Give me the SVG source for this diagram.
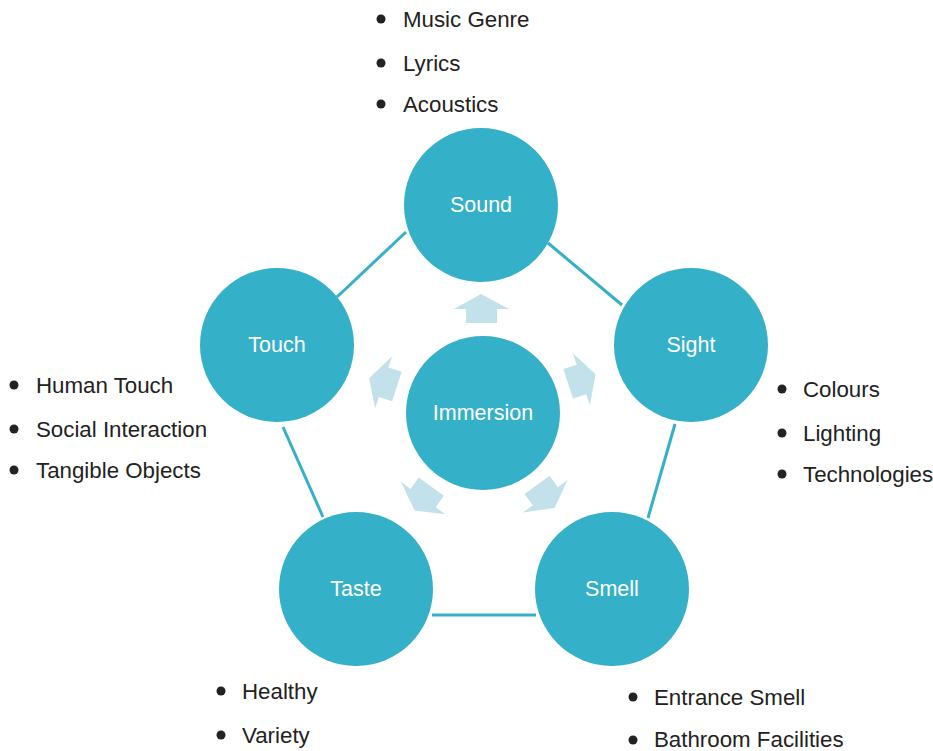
<svg xmlns="http://www.w3.org/2000/svg" width="933" height="751" viewBox="0 0 933 751">
<defs>
<style>
.node{fill:#35b0c9}
.lbl{fill:#ffffff;font-family:"Liberation Sans",Arial,sans-serif;font-size:21.5px;text-anchor:middle}
.item{fill:#222222;font-family:"Liberation Sans",Arial,sans-serif;font-size:22.3px}
.dot{fill:#222222}
.edge{stroke:#35b0c9;stroke-width:3;fill:none}
.arr{fill:#c2e1eb}
</style>
<path id="arrow" d="M481,294 L509,309 L497,309 L497,323 L466,323 L466,309 L454,309 Z"/>
</defs>
<rect width="933" height="751" fill="#ffffff"/>
<g id="connectors">
<line class="edge" x1="548" y1="243" x2="622" y2="305"/>
<line class="edge" x1="675" y1="424" x2="648" y2="518"/>
<line class="edge" x1="536" y1="615" x2="432" y2="615"/>
<line class="edge" x1="323" y1="517" x2="283" y2="427"/>
<line class="edge" x1="337" y1="297" x2="406" y2="232"/>
<g class="arr">
<use href="#arrow"/>
<use href="#arrow" transform="rotate(72 483 413)"/>
<use href="#arrow" transform="rotate(144 483 413)"/>
<use href="#arrow" transform="rotate(-144 483 413)"/>
<use href="#arrow" transform="rotate(-72 483 413)"/>
</g>
</g>
<g id="immersion"><circle class="node" cx="483" cy="413" r="77"/><text class="lbl" x="483" y="420">Immersion</text></g>
<g id="sound"><circle class="node" cx="481" cy="205" r="77"/><text class="lbl" x="481" y="212">Sound</text></g>
<g id="sight"><circle class="node" cx="691" cy="345" r="77"/><text class="lbl" x="691" y="352">Sight</text></g>
<g id="smell"><circle class="node" cx="612" cy="589" r="77"/><text class="lbl" x="612" y="596">Smell</text></g>
<g id="taste"><circle class="node" cx="356" cy="589" r="77"/><text class="lbl" x="356" y="596">Taste</text></g>
<g id="touch"><circle class="node" cx="277" cy="345" r="77"/><text class="lbl" x="277" y="352">Touch</text></g>
<g id="sound-list">
<circle class="dot" cx="381" cy="19" r="4.5"/><text class="item" x="403" y="27">Music Genre</text>
<circle class="dot" cx="381" cy="63" r="4.5"/><text class="item" x="403" y="71">Lyrics</text>
<circle class="dot" cx="381" cy="104" r="4.5"/><text class="item" x="403" y="112">Acoustics</text>
</g>
<g id="touch-list">
<circle class="dot" cx="14" cy="385" r="4.5"/><text class="item" x="36" y="393">Human Touch</text>
<circle class="dot" cx="14" cy="429" r="4.5"/><text class="item" x="36" y="437">Social Interaction</text>
<circle class="dot" cx="14" cy="470" r="4.5"/><text class="item" x="36" y="478">Tangible Objects</text>
</g>
<g id="sight-list">
<circle class="dot" cx="782" cy="389" r="4.5"/><text class="item" x="803" y="397">Colours</text>
<circle class="dot" cx="782" cy="433" r="4.5"/><text class="item" x="803" y="441">Lighting</text>
<circle class="dot" cx="782" cy="474" r="4.5"/><text class="item" x="803" y="482">Technologies</text>
</g>
<g id="taste-list">
<circle class="dot" cx="221" cy="691" r="4.5"/><text class="item" x="242" y="699">Healthy</text>
<circle class="dot" cx="221" cy="735" r="4.5"/><text class="item" x="242" y="743">Variety</text>
</g>
<g id="smell-list">
<circle class="dot" cx="633" cy="697" r="4.5"/><text class="item" x="654" y="705">Entrance Smell</text>
<circle class="dot" cx="633" cy="740" r="4.5"/><text class="item" x="654" y="747">Bathroom Facilities</text>
</g>
</svg>
